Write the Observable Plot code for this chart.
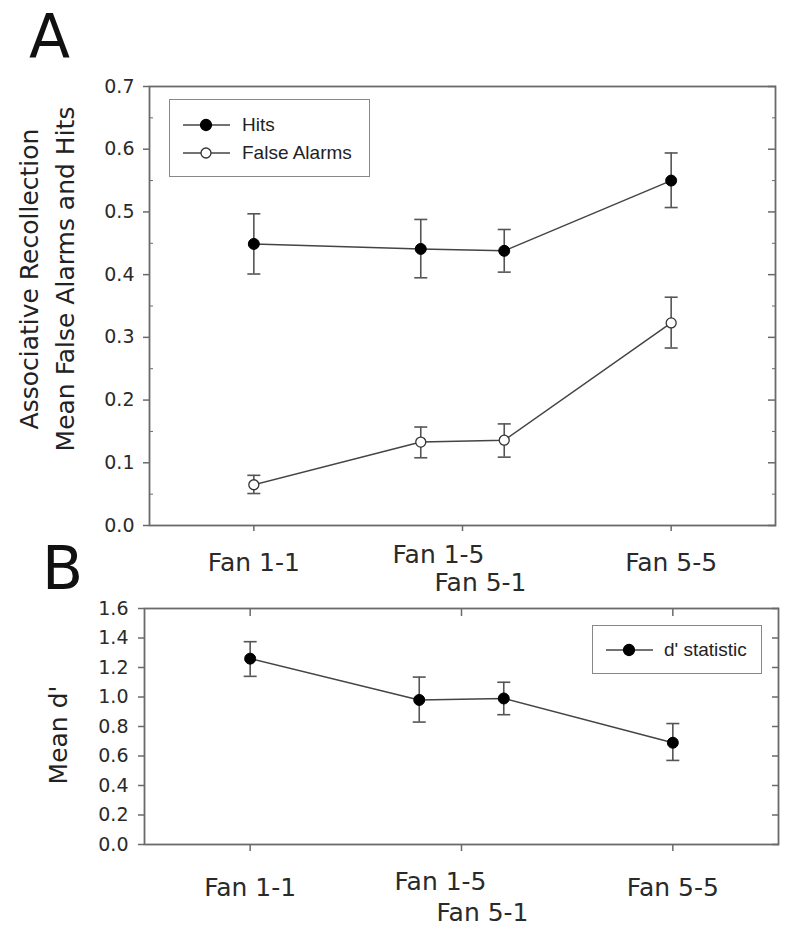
<!DOCTYPE html>
<html><head><meta charset="utf-8">
<script src="https://cdn.jsdelivr.net/npm/d3@7"></script>
<script src="https://cdn.jsdelivr.net/npm/@observablehq/plot@0.6"></script>
<style>
body{margin:0;background:#fff;}
#wrap{position:relative;width:800px;height:933px;font-family:"DejaVu Sans",sans-serif;color:#222;overflow:hidden;}
.panel{position:absolute;left:0;}
.plabel{position:absolute;font-size:60px;line-height:72px;color:#111;}
.ytitle{position:absolute;transform:translate(-50%,-50%) rotate(-90deg);white-space:nowrap;text-align:center;font-size:25px;line-height:36px;color:#222;}
.legend{position:absolute;border:1.5px solid #888;background:#fff;font-family:"Liberation Sans",Arial,sans-serif;font-size:19px;color:#222;box-sizing:border-box;}
.row{position:absolute;left:0;height:20px;display:flex;align-items:center;}
.row svg{position:absolute;left:0;top:0;}
.row span{position:absolute;white-space:nowrap;}
</style></head><body><div id="wrap"></div><script>
// ---- data ----
const categories = ["Fan 1-1", "Fan 1-5", "Fan 5-1", "Fan 5-5"];
const xPos = [1, 1.8, 2.2, 3];
const hits = [0.449, 0.441, 0.438, 0.550];
const hitsLo = [0.401, 0.395, 0.404, 0.507];
const hitsHi = [0.497, 0.488, 0.472, 0.594];
const falseAlarms = [0.065, 0.133, 0.136, 0.323];
const faLo = [0.051, 0.108, 0.109, 0.283];
const faHi = [0.080, 0.157, 0.162, 0.364];
const dPrime = [1.26, 0.98, 0.99, 0.69];
const dLo = [1.14, 0.83, 0.88, 0.57];
const dHi = [1.375, 1.135, 1.10, 0.82];
const yTicksA = [0, 0.1, 0.2, 0.3, 0.4, 0.5, 0.6, 0.7];
const yMinorA = [0.05, 0.15, 0.25, 0.35, 0.45, 0.55, 0.65];
const yTicksB = [0, 0.2, 0.4, 0.6, 0.8, 1.0, 1.2, 1.4, 1.6];
const xTicks = [1, 2, 3];

const rowsA = [
  ...categories.map((c, i) => ({cond: c, pos: xPos[i], series: "Hits", v: hits[i], lo: hitsLo[i], hi: hitsHi[i]})),
  ...categories.map((c, i) => ({cond: c, pos: xPos[i], series: "False Alarms", v: falseAlarms[i], lo: faLo[i], hi: faHi[i]}))
];
const rowsB = categories.map((c, i) => ({cond: c, pos: xPos[i], series: "d' statistic", v: dPrime[i], lo: dLo[i], hi: dHi[i]}));

const cap = {draw(ctx, size) { const r = Math.sqrt(size / Math.PI); ctx.moveTo(-r, 0); ctx.lineTo(r, 0); }};
const edgeLabel = (v) => v === 1 ? categories[0] : v === 3 ? categories[3] : "";
const errColor = "#555", lineColor = "#444", frameColor = "#6a6a6a";

function dataMarks(rows) {
  return [
    Plot.ruleX(rows, {x: "pos", y1: "lo", y2: "hi", stroke: errColor, strokeWidth: 1.6}),
    Plot.dot(rows, {x: "pos", y: "lo", symbol: cap, r: 6.5, fill: "none", stroke: errColor, strokeWidth: 1.6}),
    Plot.dot(rows, {x: "pos", y: "hi", symbol: cap, r: 6.5, fill: "none", stroke: errColor, strokeWidth: 1.6}),
    Plot.line(rows, {x: "pos", y: "v", z: "series", stroke: lineColor, strokeWidth: 1.5}),
    Plot.dot(rows.filter(d => d.series !== "False Alarms"), {x: "pos", y: "v", r: 5.5, fill: "#000", stroke: "#000", strokeWidth: 1}),
    Plot.dot(rows.filter(d => d.series === "False Alarms"), {x: "pos", y: "v", r: 5, fill: "#fff", stroke: "#333", strokeWidth: 1.3})
  ];
}
const blank = () => "";
const common = {fontFamily: "DejaVu Sans", color: "#2a2a2a", background: "transparent", overflow: "visible"};

const plotA = Plot.plot({
  width: 800, height: 600, marginTop: 86, marginRight: 25, marginBottom: 75, marginLeft: 149,
  style: common,
  x: {domain: [0.5, 3.5]},
  y: {domain: [0, 0.7]},
  marks: [
    Plot.frame({stroke: frameColor, strokeWidth: 1.8}),
    Plot.axisY({ticks: yTicksA, tickSize: 6, tickPadding: 9, tickFormat: d3.format(".1f"), fontSize: 19, stroke: frameColor, strokeWidth: 1.5, label: null}),
    Plot.axisY({ticks: yMinorA, tickSize: -4, tickFormat: blank, stroke: frameColor, label: null}),
    Plot.axisY({anchor: "right", ticks: yTicksA, tickSize: -8, tickFormat: blank, stroke: frameColor, strokeWidth: 1.5, label: null}),
    Plot.axisY({anchor: "right", ticks: yMinorA, tickSize: -4, tickFormat: blank, stroke: frameColor, label: null}),
    Plot.axisX({ticks: xTicks, tickSize: 6, tickFormat: blank, stroke: frameColor, strokeWidth: 1.5, label: null}),
    Plot.axisX({ticks: [1, 3], tickSize: 0, tickPadding: 28, tickFormat: edgeLabel, fontSize: 25, label: null}),
    Plot.axisX({ticks: [2], tickSize: 0, tickPadding: 20, dx: -24, tickFormat: () => categories[1], fontSize: 25, label: null}),
    Plot.axisX({ticks: [2], tickSize: 0, tickPadding: 48, dx: 18, tickFormat: () => categories[2], fontSize: 25, label: null}),
    ...dataMarks(rowsA)
  ]
});

const plotB = Plot.plot({
  width: 800, height: 333, marginTop: 8, marginRight: 22, marginBottom: 89, marginLeft: 144,
  style: common,
  x: {domain: [0.5, 3.5]},
  y: {domain: [0, 1.6]},
  marks: [
    Plot.frame({stroke: frameColor, strokeWidth: 1.8}),
    Plot.axisY({ticks: yTicksB, tickSize: 6, tickPadding: 10, tickFormat: d3.format(".1f"), fontSize: 19, stroke: frameColor, strokeWidth: 1.5, label: null}),
    Plot.axisY({anchor: "right", ticks: yTicksB, tickSize: -7, tickFormat: blank, stroke: frameColor, strokeWidth: 1.5, label: null}),
    Plot.axisX({anchor: "top", ticks: xTicks, tickSize: -7, tickFormat: blank, stroke: frameColor, strokeWidth: 1.5, label: null}),
    Plot.axisX({ticks: xTicks, tickSize: 7, tickFormat: blank, stroke: frameColor, strokeWidth: 1.5, label: null}),
    Plot.axisX({ticks: [1, 3], tickSize: 0, tickPadding: 34, tickFormat: edgeLabel, fontSize: 25, label: null}),
    Plot.axisX({ticks: [2], tickSize: 0, tickPadding: 28, dx: -21, tickFormat: () => categories[1], fontSize: 25, label: null}),
    Plot.axisX({ticks: [2], tickSize: 0, tickPadding: 59, dx: 21, tickFormat: () => categories[2], fontSize: 25, label: null}),
    ...dataMarks(rowsB)
  ]
});

const wrap = document.getElementById("wrap");
plotA.classList.add("panel"); plotA.style.top = "0px";
plotB.classList.add("panel"); plotB.style.top = "600px";
wrap.appendChild(plotA);
wrap.appendChild(plotB);

function addDiv(cls, text, css) {
  const d = document.createElement("div");
  d.className = cls; d.innerHTML = text; Object.assign(d.style, css);
  wrap.appendChild(d); return d;
}
addDiv("plabel", "A", {left: "29px", top: "0px"});
addDiv("plabel", "B", {left: "42px", top: "532px"});
addDiv("ytitle", "Associative Recollection<br>Mean False Alarms and Hits", {left: "48px", top: "279px"});
addDiv("ytitle", "Mean d'", {left: "59px", top: "735px"});

function swatch(filled) {
  return `<svg width="64" height="20"><line x1="13" x2="60" y1="10" y2="10" stroke="${lineColor}" stroke-width="1.5"/>` +
    `<circle cx="36" cy="10" r="${filled ? 5.5 : 5}" fill="${filled ? "#000" : "#fff"}" stroke="${filled ? "#000" : "#333"}" stroke-width="1.3"/></svg>`;
}
function legend(items, css) {
  const box = addDiv("legend", "", css);
  items.forEach((it) => {
    const r = document.createElement("div");
    r.className = "row";
    r.style.top = (it.cy - 10) + "px";
    r.style.width = "100%";
    r.innerHTML = swatch(it.filled) + `<span style="left:${it.tx}px;top:-1px;">${it.label}</span>`;
    box.appendChild(r);
  });
}
legend([{label: "Hits", filled: true, cy: 25, tx: 72}, {label: "False Alarms", filled: false, cy: 53, tx: 72}],
  {left: "169px", top: "99px", width: "201px", height: "78px"});
legend([{label: "d' statistic", filled: true, cy: 24, tx: 71}],
  {left: "592px", top: "625px", width: "170px", height: "49px"});
</script></body></html>
